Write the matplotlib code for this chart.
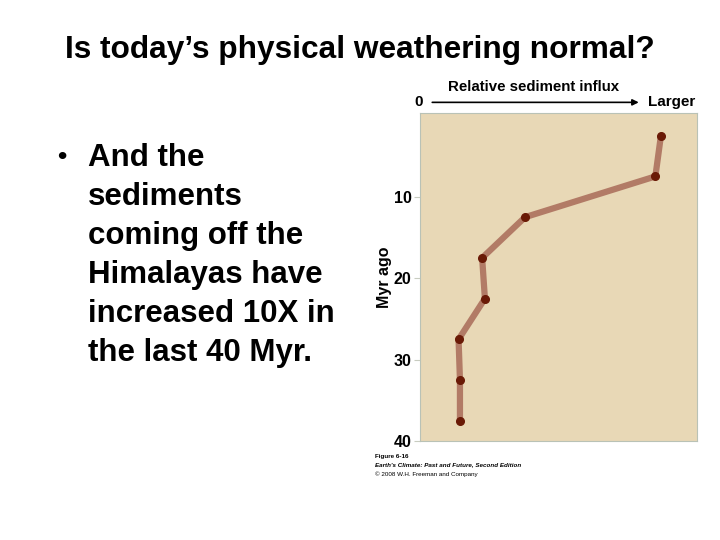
import matplotlib.pyplot as plt

# sediment influx vs. age (relative units, 0 = none, 1 = right edge)
myr_ago = [2.5, 7.5, 12.5, 17.5, 22.5, 27.5, 32.5, 37.5]
influx = [0.87, 0.85, 0.38, 0.225, 0.235, 0.14, 0.145, 0.145]
y_ticks = [10, 20, 30, 40]

body_lines = ["And the", "sediments", "coming off the", "Himalayas have",
              "increased 10X in", "the last 40 Myr."]

plt.rcParams['font.family'] = ['Liberation Sans', 'DejaVu Sans']

fig = plt.figure(figsize=(7.2, 5.4), dpi=100)

# slide title
fig.text(0.5, 0.907, "Is today\u2019s physical weathering normal?", ha='center', va='center',
         fontsize=22.8, fontweight='bold')

# bullet text
fig.text(0.08, 0.71, "\u2022", ha='left', va='center', fontsize=19, fontweight='bold')
for i, line in enumerate(body_lines):
    fig.text(0.122, 0.708 - i * 0.0722, line, ha='left', va='center', fontsize=22.5, fontweight='bold')

# chart panel
ax = fig.add_axes([0.583, 0.183, 0.385, 0.608])
ax.set_facecolor('#E8D8B6')
ax.plot(influx, myr_ago, color='#B27B66', lw=4.5, solid_capstyle='round', zorder=2)
ax.plot(influx, myr_ago, 'o', color='#6A1A06', ms=5.5, zorder=3)
ax.set_xlim(0, 1)
ax.set_ylim(40, -0.3)
ax.set_xticks([])
ax.set_yticks(y_ticks)
ax.set_yticklabels([str(t) for t in y_ticks], fontsize=11.5, fontweight='bold')
ax.tick_params(axis='y', length=4, width=0.8, color='#C8CCC0', pad=2)
for s in ax.spines.values():
    s.set_color('#B9C2B6')
    s.set_linewidth(0.8)
ax.set_ylabel("Myr ago", fontsize=11.5, fontweight='bold', labelpad=1)

# top axis arrow
ax.annotate('', xy=(0.80, 1.032), xytext=(0.035, 1.032), xycoords='axes fraction',
            arrowprops=dict(arrowstyle='-|>', color='black', lw=1.2, mutation_scale=9))
ax.text(-0.005, 1.032, "0", transform=ax.transAxes, ha='center', va='center',
        fontsize=11, fontweight='bold')
ax.text(0.823, 1.032, "Larger", transform=ax.transAxes, ha='left', va='center',
        fontsize=11, fontweight='bold')
ax.text(0.41, 1.078, "Relative sediment influx", transform=ax.transAxes, ha='center',
        va='center', fontsize=10.8, fontweight='bold')

# figure credit
fig.text(0.521, 0.155, "Figure 6-16", fontsize=4.5, fontweight='bold', va='center')
fig.text(0.521, 0.139, "Earth's Climate: Past and Future, Second Edition", fontsize=4.5,
         fontweight='bold', style='italic', va='center')
fig.text(0.521, 0.121, "\u00a9 2008 W.H. Freeman and Company", fontsize=4.5, va='center')

plt.savefig('out.png', dpi=100)
